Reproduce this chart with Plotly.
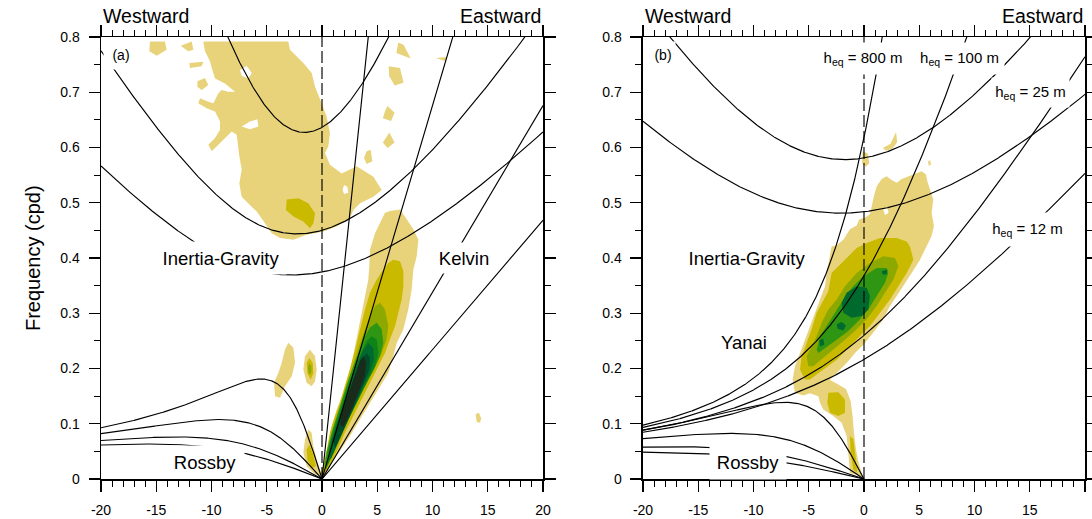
import numpy as np
import plotly.graph_objects as go

# ---------------- data ----------------
HEQ = [12, 25, 100, 800]            # equivalent depths (m)
X_TICKS = [-20, -15, -10, -5, 0, 5, 10, 15, 20]
X_TICK_TEXT = ["-20", "-15", "-10", "-5", "0", "5", "10", "15", "20"]
Y_TICKS = [0, 0.1, 0.2, 0.3, 0.4, 0.5, 0.6, 0.7, 0.8]
Y_TICK_TEXT = ["0", "0.1", "0.2", "0.3", "0.4", "0.5", "0.6", "0.7", "0.8"]

# contour-fill outlines: (wavenumber, frequency cpd)
A_L1_MAIN = [(-10.74,0.792),(-3.05,0.792),(-2.90,0.777),(-1.69,0.753),(-0.93,0.735),(-0.63,0.710),
             (-0.03,0.680),(0.42,0.656),(0.72,0.626),(0.57,0.602),(0.27,0.590),(0.72,0.569),(1.78,0.553),
             (2.53,0.560),(3.14,0.566),(4.65,0.547),(5.40,0.523),(4.65,0.511),(3.44,0.499),(2.84,0.487),
             (2.53,0.472),(1.33,0.457),(0.12,0.448),(-1.39,0.442),(-2.59,0.433),(-3.80,0.436),(-4.55,0.445),
             (-5.16,0.463),(-5.91,0.484),(-6.82,0.502),(-7.27,0.511),(-7.48,0.535),(-7.27,0.560),(-7.48,0.584),
             (-7.66,0.608),(-7.72,0.623),(-8.17,0.629),(-8.63,0.620),(-9.08,0.611),(-9.98,0.593),(-10.29,0.605),
             (-9.68,0.617),(-9.23,0.632),(-9.23,0.647),(-9.68,0.665),(-10.44,0.671),(-11.19,0.680),(-11.04,0.689),
             (-10.29,0.683),(-9.83,0.680),(-9.38,0.698),(-9.08,0.704),(-8.48,0.701),(-7.87,0.701),(-8.78,0.716),
             (-9.68,0.725),(-9.98,0.744),(-10.14,0.756),(-10.59,0.774)]
A_L1_B1 = [(-15.57,0.792),(-14.21,0.792),(-14.06,0.777),(-14.96,0.766),(-15.63,0.774)]
A_L1_B2 = [(-12.79,0.784),(-11.79,0.792),(-11.64,0.777),(-12.10,0.774)]
A_L1_B3 = [(-12.0,0.753),(-10.74,0.755),(-10.89,0.747),(-11.95,0.744)]
A_L1_B4 = [(-11.28,0.720),(-10.59,0.726),(-10.29,0.713),(-10.89,0.704),(-11.28,0.710)]
A_L1_B5 = [(4.04,0.593),(4.40,0.596),(4.56,0.575),(4.04,0.570),(3.80,0.581)]
A_L1_B6 = [(6.90,0.790),(7.38,0.786),(8.03,0.761),(7.22,0.768),(6.73,0.771)]
A_L1_B7 = [(10.29,0.762),(11.26,0.764),(11.20,0.756),(10.62,0.759)]
A_L1_B8 = [(6.03,0.747),(7.06,0.744),(7.38,0.717),(6.57,0.712),(6.09,0.729)]
A_L1_B9 = [(5.93,0.675),(6.57,0.663),(6.25,0.648),(5.51,0.653),(5.70,0.666)]
A_L1_B10 = [(6.09,0.627),(6.57,0.609),(5.93,0.599),(5.51,0.609)]
A_L1_KELVIN = [(6.15,0.485),(7.06,0.488),(7.66,0.470),(8.27,0.452),(8.72,0.433),(8.57,0.403),(8.27,0.379),
               (8.11,0.343),(7.81,0.307),(7.36,0.271),(6.76,0.246),(6.46,0.222),(6.00,0.192),(5.25,0.168),
               (4.34,0.138),(3.44,0.108),(2.53,0.078),(1.78,0.056),(1.18,0.038),(0.57,0.020),(0.27,0.008),
               (-0.18,0.008),(0.12,0.023),(0.42,0.041),(0.57,0.066),(0.87,0.096),(1.33,0.126),(1.78,0.150),
               (2.23,0.180),(2.68,0.210),(2.99,0.240),(3.29,0.271),(3.59,0.301),(3.89,0.331),(4.19,0.361),
               (4.28,0.385),(4.34,0.415),(4.80,0.445),(5.40,0.470),(5.70,0.482)]
A_L1_ORIGIN = [(-1.24,0.0896),(-0.94,0.0836),(-0.78,0.0594),(-0.48,0.035),(-0.18,0.017),(-0.03,0.0064),
               (-0.63,0.008),(-1.39,0.023),(-1.69,0.047),(-1.54,0.0715)]
A_L1_LEFT = [(-3.05,0.2465),(-2.59,0.2374),(-2.44,0.2103),(-2.74,0.186),(-3.35,0.168),(-3.80,0.147),
             (-4.25,0.150),(-4.34,0.174),(-3.95,0.192),(-3.65,0.210),(-3.35,0.2344)]
A_L1_OVAL = [(-1.09,0.2344),(-0.63,0.2223),(-0.48,0.1982),(-0.63,0.177),(-0.94,0.168),(-1.39,0.174),
             (-1.69,0.1982),(-1.54,0.2223)]
A_L1_DOT = [(13.9,0.117),(14.2,0.120),(14.4,0.110),(14.3,0.102),(14.0,0.103)]
A_HOLE_1 = [(-7.42,0.740),(-6.82,0.748),(-6.36,0.735),(-6.67,0.725),(-7.27,0.730)]
A_HOLE_2 = [(-7.27,0.638),(-6.52,0.647),(-5.85,0.651),(-5.76,0.638),(-6.52,0.633)]
A_HOLE_3 = [(1.99,0.532),(2.29,0.529),(2.38,0.518),(1.99,0.516),(1.87,0.523)]
A_L2_MAIN = [(-3.20,0.506),(-2.14,0.508),(-1.24,0.499),(-0.63,0.481),(-0.78,0.463),(-1.09,0.454),
             (-1.69,0.466),(-2.59,0.475),(-3.26,0.487)]
A_L2_KELVIN = [(6.46,0.397),(7.06,0.394),(7.36,0.376),(7.36,0.349),(7.21,0.325),(6.91,0.301),(6.61,0.277),
               (6.15,0.253),(5.70,0.228),(5.10,0.204),(4.34,0.174),(3.59,0.144),(2.83,0.114),(2.08,0.084),
               (1.48,0.056),(0.87,0.032),(0.42,0.014),(0.12,0.008),(0.06,0.017),(0.27,0.035),(0.48,0.059),
               (0.72,0.084),(1.18,0.114),(1.63,0.138),(2.08,0.168),(2.53,0.198),(2.99,0.234),(3.44,0.271),
               (3.89,0.307),(4.34,0.337),(4.95,0.361),(5.55,0.379),(6.00,0.391)]
A_L2_ORIGIN = [(-1.15,0.0625),(-0.84,0.047),(-0.54,0.023),(-0.94,0.020),(-1.33,0.035),(-1.39,0.053)]
A_L2_OVAL = [(-1.15,0.219),(-0.84,0.210),(-0.78,0.192),(-1.03,0.180),(-1.33,0.192),(-1.39,0.210)]
A_L3_KELVIN = [(5.25,0.319),(5.70,0.307),(6.00,0.277),(5.85,0.253),(5.40,0.228),(4.80,0.204),(4.19,0.180),
               (3.44,0.150),(2.68,0.120),(1.93,0.090),(1.33,0.062),(0.78,0.038),(0.36,0.017),(0.18,0.023),
               (0.36,0.047),(0.72,0.071),(1.18,0.102),(1.63,0.129),(2.08,0.156),(2.53,0.186),(2.99,0.216),
               (3.44,0.246),(3.89,0.271),(4.34,0.295),(4.80,0.313)]
A_L3_OVAL = [(-1.15,0.210),(-0.97,0.204),(-0.97,0.192),(-1.18,0.189),(-1.27,0.201)]
A_L4_KELVIN = [(4.95,0.283),(5.40,0.271),(5.55,0.246),(5.25,0.222),(4.71,0.198),(4.04,0.174),(3.29,0.144),
               (2.53,0.114),(1.78,0.084),(1.18,0.056),(0.66,0.029),(0.36,0.017),(0.27,0.029),(0.48,0.053),
               (0.87,0.084),(1.33,0.114),(1.78,0.144),(2.29,0.174),(2.83,0.204),(3.38,0.234),(3.89,0.259),
               (4.34,0.274)]
A_L5_KELVIN = [(4.49,0.2585),(4.95,0.2525),(5.10,0.228),(4.80,0.204),(4.19,0.180),(3.44,0.150),(2.68,0.120),
               (1.93,0.090),(1.33,0.062),(0.81,0.038),(0.48,0.023),(0.48,0.041),(0.72,0.065),(1.09,0.090),
               (1.48,0.114),(1.93,0.144),(2.44,0.174),(2.99,0.204),(3.50,0.228),(4.04,0.250)]
A_L6_KELVIN = [(4.19,0.246),(4.64,0.237),(4.71,0.216),(4.34,0.192),(3.74,0.168),(3.08,0.138),(2.38,0.108),
               (1.69,0.078),(1.18,0.053),(0.78,0.035),(0.66,0.047),(0.87,0.071),(1.27,0.096),(1.69,0.123),
               (2.17,0.153),(2.68,0.183),(3.20,0.210),(3.74,0.234)]
A_L7_KELVIN = [(4.04,0.228),(4.34,0.219),(4.28,0.198),(3.89,0.177),(3.38,0.153),(2.77,0.126),(2.17,0.099),
               (1.63,0.075),(1.18,0.056),(1.03,0.068),(1.27,0.090),(1.69,0.114),(2.17,0.144),(2.68,0.171),
               (3.20,0.198),(3.68,0.219)]
A_L8_KELVIN = [(3.75,0.222),(4.00,0.210),(3.85,0.185),(3.35,0.158),(2.80,0.132),(2.30,0.110),(1.90,0.094),
               (1.65,0.098),(1.80,0.118),(2.20,0.144),(2.65,0.170),(3.10,0.195),(3.45,0.215)]

B_L1_MAIN = [(-0.36,0.005),(-1.27,0.011),(-1.42,0.047),(-1.57,0.078),(-2.02,0.102),(-2.78,0.114),(-3.68,0.126),
             (-3.98,0.138),(-4.13,0.150),(-4.89,0.155),(-5.49,0.151),(-6.25,0.156),(-6.46,0.180),(-6.25,0.204),
             (-5.79,0.228),(-5.34,0.252),(-4.89,0.277),(-4.28,0.307),(-3.98,0.325),(-3.53,0.349),(-3.38,0.373),
             (-3.08,0.409),(-2.93,0.421),(-2.47,0.423),(-1.87,0.433),(-1.27,0.452),(-0.66,0.459),(-0.42,0.470),
             (0.09,0.473),(0.54,0.479),(0.69,0.494),(0.90,0.512),(1.15,0.530),(1.60,0.543),(2.05,0.548),
             (2.50,0.541),(2.96,0.536),(3.41,0.543),(4.16,0.549),(4.77,0.554),(5.22,0.557),(5.61,0.551),
             (5.73,0.539),(5.97,0.524),(6.27,0.506),(6.12,0.482),(6.33,0.458),(6.12,0.440),(5.67,0.421),
             (5.07,0.397),(4.31,0.373),(3.56,0.349),(2.96,0.331),(2.35,0.313),(1.75,0.289),(0.84,0.265),
             (0.09,0.246),(-0.81,0.228),(-1.57,0.210),(-2.47,0.192),(-3.08,0.179),(-2.32,0.171),(-1.63,0.163),
             (-1.21,0.141),(-1.03,0.114),(-0.91,0.084),(-0.72,0.053),(-0.48,0.029),(-0.12,0.005)]
B_L1_TOP = [(-0.12,0.593),(0.33,0.589),(0.48,0.572),(0.18,0.565),(-0.18,0.572)]
B_L1_SPIKE = [(1.7,0.599),(2.4,0.607),(2.9,0.628),(3.0,0.610),(2.6,0.598),(2.0,0.594)]
B_L1_DOT = [(5.8,0.575),(6.0,0.577),(6.05,0.569),(5.85,0.567)]
B_HOLE_1 = [(1.75,0.488),(2.11,0.491),(2.23,0.482),(1.90,0.478)]
B_L2_MAIN = [(-5.79,0.198),(-5.64,0.222),(-5.19,0.246),(-4.74,0.271),(-4.28,0.301),(-3.83,0.319),(-3.23,0.340),
             (-2.93,0.373),(-2.02,0.391),(-1.27,0.406),(-0.66,0.418),(0.24,0.427),(1.45,0.436),(2.96,0.436),
             (3.86,0.430),(4.16,0.421),(4.47,0.397),(3.86,0.373),(3.11,0.349),(2.35,0.325),(1.45,0.301),
             (0.54,0.277),(-0.36,0.259),(-1.27,0.240),(-2.47,0.216),(-3.68,0.198),(-4.89,0.180),(-5.34,0.180)]
B_L2_TAIL1 = [(-3.23,0.156),(-2.32,0.157),(-1.72,0.144),(-1.72,0.120),(-2.32,0.114),(-3.08,0.120),(-3.32,0.138)]
B_L2_TAIL2 = [(-1.27,0.078),(-0.97,0.072),(-0.72,0.035),(-0.60,0.011),(-0.97,0.017),(-1.21,0.047)]
B_L3_MAIN = [(-5.04,0.204),(-5.19,0.222),(-4.74,0.240),(-4.28,0.259),(-3.83,0.283),(-3.23,0.307),(-2.47,0.325),
             (-1.72,0.349),(-0.66,0.373),(0.54,0.391),(1.75,0.403),(2.80,0.400),(3.11,0.385),(2.66,0.361),
             (1.90,0.337),(1.15,0.313),(0.24,0.289),(-0.66,0.271),(-1.72,0.252),(-2.78,0.234),(-3.83,0.216),
             (-4.59,0.204)]
B_L4_MAIN = [(-4.28,0.234),(-3.98,0.259),(-3.38,0.277),(-2.63,0.301),(-1.87,0.325),(-0.97,0.349),(-0.06,0.367),
             (1.15,0.382),(2.05,0.382),(2.20,0.373),(1.90,0.355),(1.15,0.331),(0.39,0.307),(-0.51,0.286),
             (-1.42,0.268),(-2.47,0.252),(-3.53,0.237),(-4.13,0.228)]
B_L6_CORE = [(-1.57,0.337),(-0.66,0.349),(0.24,0.346),(0.54,0.331),(0.39,0.307),(-0.21,0.295),(-1.12,0.292),
             (-1.87,0.301),(-2.02,0.319)]
B_L6_SPOT1 = [(-2.47,0.280),(-2.02,0.284),(-1.63,0.278),(-1.87,0.269),(-2.38,0.272)]
B_L6_SPOT2 = [(-4.04,0.251),(-3.68,0.254),(-3.59,0.243),(-3.98,0.240)]
B_L6_SPOT3 = [(1.60,0.376),(2.11,0.379),(2.05,0.370),(1.69,0.370)]

# (level, outline); level 0 = white hole
PANEL_A_FILLS = [(1, A_L1_MAIN), (1, A_L1_B1), (1, A_L1_B2), (1, A_L1_B3), (1, A_L1_B4), (1, A_L1_B5),
                 (1, A_L1_B6), (1, A_L1_B7), (1, A_L1_B8), (1, A_L1_B9), (1, A_L1_B10), (1, A_L1_KELVIN),
                 (1, A_L1_ORIGIN), (1, A_L1_LEFT), (1, A_L1_OVAL), (1, A_L1_DOT),
                 (0, A_HOLE_1), (0, A_HOLE_2), (0, A_HOLE_3),
                 (2, A_L2_MAIN), (2, A_L2_KELVIN), (2, A_L2_ORIGIN), (2, A_L2_OVAL),
                 (3, A_L3_KELVIN), (3, A_L3_OVAL), (4, A_L4_KELVIN), (5, A_L5_KELVIN),
                 (6, A_L6_KELVIN), (7, A_L7_KELVIN), (8, A_L8_KELVIN)]
PANEL_B_FILLS = [(1, B_L1_MAIN), (1, B_L1_TOP), (1, B_L1_SPIKE), (1, B_L1_DOT), (0, B_HOLE_1),
                 (2, B_L2_MAIN), (2, B_L2_TAIL1), (2, B_L2_TAIL2), (3, B_L3_MAIN), (4, B_L4_MAIN),
                 (6, B_L6_CORE), (6, B_L6_SPOT1), (6, B_L6_SPOT2), (6, B_L6_SPOT3)]

LEVEL_COLORS = {0: "#FFFFFF", 1: "#E8D37B", 2: "#C9BA00", 3: "#8DA900", 4: "#2F9613",
                5: "#0F8218", 6: "#006A2E", 7: "#004C2A", 8: "#1A2B1C"}

# ---------------- shallow-water dispersion curves ----------------
G = 9.81
BETA = 2.28e-11
RE = 6.371e6
TO_CPD = 86400.0 / (2.0 * np.pi)
S = np.linspace(-20, 20, 801)


def cubic_roots(s, h, n):
    c = np.sqrt(G * h)
    rows = []
    for kk in s / RE:
        r = np.roots([1.0, 0.0, -(c * c * kk * kk + (2 * n + 1) * BETA * c), -BETA * c * c * kk])
        rows.append(np.sort(r.real))
    return np.array(rows)


def inertia_gravity(h, n):
    return cubic_roots(S, h, n)[:, 2] * TO_CPD


def rossby(h, n):
    sw = S[S <= 0]
    return sw, cubic_roots(sw, h, n)[:, 1] * TO_CPD


def kelvin(h):
    se = S[S >= 0]
    return se, np.sqrt(G * h) * se / RE * TO_CPD


def yanai(h):
    c = np.sqrt(G * h)
    k = S / RE
    return (0.5 * c * k + np.sqrt(0.25 * c * c * k * k + BETA * c)) * TO_CPD


fig = go.Figure()
LINE = dict(color="black", width=1.15)


def add_fill(poly, level, xa, ya):
    ks = [p[0] for p in poly] + [poly[0][0]]
    ws = [p[1] for p in poly] + [poly[0][1]]
    col = LEVEL_COLORS[level]
    fig.add_trace(go.Scatter(x=ks, y=ws, mode="lines", fill="toself", fillcolor=col,
                             line=dict(width=0, color=col), hoverinfo="skip", showlegend=False,
                             xaxis=xa, yaxis=ya))


def add_line(x, y, xa, ya, dash=None):
    ln = dict(LINE)
    if dash:
        ln["dash"] = dash
    fig.add_trace(go.Scatter(x=x, y=y, mode="lines", line=ln, hoverinfo="skip",
                             showlegend=False, xaxis=xa, yaxis=ya))


for lev, poly in PANEL_A_FILLS:
    add_fill(poly, lev, "x", "y")
for lev, poly in PANEL_B_FILLS:
    add_fill(poly, lev, "x2", "y2")

for h in HEQ:
    # panel (a): Kelvin, n=1 inertia-gravity, n=1 Rossby
    add_line(*kelvin(h), "x", "y")
    add_line(S, inertia_gravity(h, 1), "x", "y")
    add_line(*rossby(h, 1), "x", "y")
    # panel (b): Yanai (MRG), n=2 inertia-gravity, n=2 Rossby
    add_line(S, yanai(h), "x2", "y2")
    add_line(S, inertia_gravity(h, 2), "x2", "y2")
    add_line(*rossby(h, 2), "x2", "y2")

add_line([0, 0], [0, 0.8], "x", "y", dash="12px,4px")
add_line([0, 0], [0, 0.8], "x2", "y2", dash="12px,4px")

FONT = "Liberation Sans, Arial, Helvetica, sans-serif"
axis_common = dict(showline=True, linecolor="black", linewidth=1.5, mirror="allticks",
                   ticks="outside", ticklen=11, tickwidth=1.4, tickcolor="black",
                   showgrid=False, zeroline=False, fixedrange=True, automargin=False,
                   tickfont=dict(family=FONT, size=14, color="black"))
xcommon = dict(axis_common, range=[-20, 20], tickmode="array", tickvals=X_TICKS, ticktext=X_TICK_TEXT,
               minor=dict(tickmode="linear", tick0=0, dtick=1, ticklen=6, tickwidth=1,
                          tickcolor="black", ticks="outside"),
               ticklabelstandoff=7)
ycommon = dict(axis_common, range=[0, 0.8], tickmode="array", tickvals=Y_TICKS, ticktext=Y_TICK_TEXT,
               minor=dict(tickmode="linear", tick0=0, dtick=0.05, ticklen=6, tickwidth=1,
                          tickcolor="black", ticks="outside"),
               ticklabelstandoff=6)

# the page body margin is removed (see post_script), so the figure fills the window
fig.update_layout(
    width=1092, height=519, autosize=False,
    margin=dict(l=101, r=7, t=37, b=40, pad=0),
    paper_bgcolor="white", plot_bgcolor="white", showlegend=False,
    xaxis=dict(xcommon, domain=[0, 0.4492], anchor="y"),
    yaxis=dict(ycommon, domain=[0, 1], anchor="x"),
    xaxis2=dict(xcommon, domain=[0.5508, 1], anchor="y2"),
    yaxis2=dict(ycommon, domain=[0, 1], anchor="x2"),
    font=dict(family=FONT, color="black"),
)

ann = []


def label(text, x, y, xref, yref, size, w=None, h=None, bg="white"):
    d = dict(text=text, x=x, y=y, xref=xref, yref=yref, showarrow=False,
             font=dict(family=FONT, size=size, color="black"),
             xanchor="center", yanchor="middle", bgcolor=bg, borderpad=0)
    if w:
        d["width"] = w
    if h:
        d["height"] = h
    ann.append(d)


# panel (a)
label("(a)", -18.19, 0.7674, "x", "y", 14, 34, 28)
label("Inertia-Gravity", -9.14, 0.400, "x", "y", 18.5, 130, 32)
label("Kelvin", 12.85, 0.400, "x", "y", 18.5, 60, 30)
label("Rossby", -10.59, 0.0308, "x", "y", 18.5, 78, 32)
# panel (b)
label("(b)", -18.19, 0.7674, "x2", "y2", 14, 24, 26)
label("h<sub>eq</sub> = 800 m", -0.05, 0.761, "x2", "y2", 15, 90, 31)
label("h<sub>eq</sub> = 100 m", 8.64, 0.761, "x2", "y2", 15, 89, 31)
label("h<sub>eq</sub> = 25 m", 15.07, 0.6995, "x2", "y2", 15, 77, 29)
label("h<sub>eq</sub> = 12 m", 14.80, 0.4516, "x2", "y2", 15, 77, 33)
label("Inertia-Gravity", -10.59, 0.400, "x2", "y2", 18.5, 130, 32)
label("Yanai", -10.86, 0.2485, "x2", "y2", 18.5, 60, 30)
label("Rossby", -10.50, 0.0308, "x2", "y2", 18.5, 76, 34)

# direction labels above each panel
for xr in ("x domain", "x2 domain"):
    ann.append(dict(text="Westward", x=0, y=1.0475, xref=xr, yref="paper", showarrow=False,
                    xanchor="left", yanchor="middle", font=dict(family=FONT, size=19.5, color="black")))
    ann.append(dict(text="Eastward", x=1, y=1.0475, xref=xr, yref="paper", showarrow=False,
                    xanchor="right", yanchor="middle", font=dict(family=FONT, size=19.5, color="black")))
ann.append(dict(text="Frequency (cpd)", x=-0.0691, y=0.5, xref="paper", yref="paper", showarrow=False,
                textangle=-90, xanchor="center", yanchor="middle",
                font=dict(family=FONT, size=20, color="black")))
fig.update_layout(annotations=ann)

fig.write_html("out.html", config={"displayModeBar": False, "staticPlot": True},
               post_script="document.body.style.margin='0';document.body.style.padding='0';")
